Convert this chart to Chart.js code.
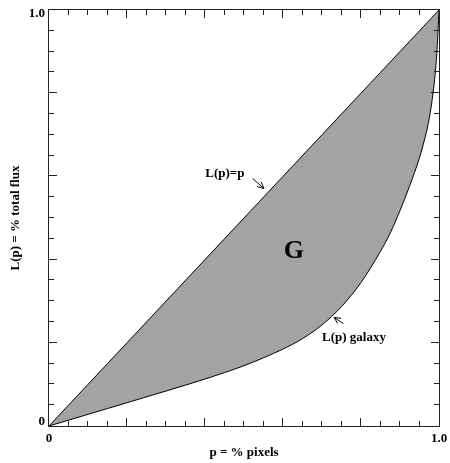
<!DOCTYPE html>
<html><head><meta charset="utf-8">
<script src="https://cdn.jsdelivr.net/npm/chart.js@4"></script>
<style>html,body{margin:0;padding:0;background:#fff}</style>
</head><body>
<canvas id="c" width="450" height="463"></canvas>
<script>
// fraction of pixels (sorted by flux) and cumulative fraction of total flux
const pixelFraction = [0, 0.05, 0.10, 0.15, 0.20, 0.30, 0.40, 0.50, 0.60, 0.65, 0.70, 0.75, 0.80, 0.85, 0.875, 0.90, 0.925, 0.95, 0.96, 0.97, 0.98, 0.99, 0.995, 1.0];
const fluxFraction  = [0, 0.014, 0.028, 0.042, 0.056, 0.084, 0.113, 0.145, 0.185, 0.210, 0.243, 0.287, 0.345, 0.420, 0.464, 0.518, 0.578, 0.645, 0.678, 0.716, 0.768, 0.845, 0.905, 1.0];
const xTickLabels = {0: '0', 1: '1.0'};
const yTickLabels = {0: '0', 1: '1.0'};
const xTitle = 'p = % pixels';
const yTitle = 'L(p) = % total flux';
const annotations = [
  {text: 'L(p)=p', x: 0.451, y: 0.606, arrowFrom: [0.522, 0.595], arrowTo: [0.551, 0.571]},
  {text: 'L(p) galaxy', x: 0.782, y: 0.212, arrowFrom: [0.755, 0.246], arrowTo: [0.731, 0.261]},
  {text: 'G', x: 0.628, y: 0.421, big: true}
];

const FONT = '"Liberation Serif", "Times New Roman", serif';

const decor = {
  id: 'decor',
  afterDraw(chart) {
    const {ctx, chartArea: a, scales: {x, y}} = chart;
    ctx.save();
    ctx.strokeStyle = '#222';
    ctx.lineWidth = 1;
    ctx.strokeRect(a.left - 0.5, a.top - 0.5, a.right - a.left + 1, a.bottom - a.top + 1);
    ctx.beginPath();
    x.ticks.forEach(t => {
      const v = t.value;
      if (v <= 0 || v >= 1) return;
      const px = Math.round(x.getPixelForValue(v)) - 0.5;
      const len = Math.round(v * 100) % 20 === 0 ? 8 : 5;
      ctx.moveTo(px, a.bottom); ctx.lineTo(px, a.bottom - len);
      ctx.moveTo(px, a.top); ctx.lineTo(px, a.top + len);
    });
    y.ticks.forEach(t => {
      const v = t.value;
      if (v <= 0 || v >= 1) return;
      const py = Math.round(y.getPixelForValue(v)) - 0.5;
      const len = Math.round(v * 100) % 20 === 0 ? 8 : 5;
      ctx.moveTo(a.left, py); ctx.lineTo(a.left + len, py);
      ctx.moveTo(a.right, py); ctx.lineTo(a.right - len, py);
    });
    ctx.stroke();

    ctx.fillStyle = '#000';
    ctx.font = 'bold 13px ' + FONT;
    ctx.textBaseline = 'middle';
    ctx.textAlign = 'center';
    Object.keys(xTickLabels).forEach(k => {
      ctx.fillText(xTickLabels[k], x.getPixelForValue(+k), a.bottom + 13);
    });
    ctx.textAlign = 'right';
    Object.keys(yTickLabels).forEach(k => {
      const v = +k;
      const py = y.getPixelForValue(v) + (v === 0 ? -4 : 4);
      ctx.fillText(yTickLabels[k], a.left - 4, py);
    });
    // axis titles
    ctx.textAlign = 'center';
    ctx.textBaseline = 'alphabetic';
    ctx.fillText(xTitle, (a.left + a.right) / 2, 456);
    ctx.save();
    ctx.translate(19, (a.top + a.bottom) / 2);
    ctx.rotate(-Math.PI / 2);
    ctx.fillText(yTitle, 0, 0);
    ctx.restore();

    // annotations
    annotations.forEach(an => {
      ctx.font = (an.big ? 'bold 26px ' : 'bold 13px ') + FONT;
      ctx.textAlign = 'center';
      ctx.textBaseline = 'middle';
      ctx.fillText(an.text, x.getPixelForValue(an.x), y.getPixelForValue(an.y));
      if (an.arrowFrom) {
        const x0 = x.getPixelForValue(an.arrowFrom[0]), y0 = y.getPixelForValue(an.arrowFrom[1]);
        const x1 = x.getPixelForValue(an.arrowTo[0]), y1 = y.getPixelForValue(an.arrowTo[1]);
        const ang = Math.atan2(y1 - y0, x1 - x0);
        const h = 7, s = 0.45;
        ctx.beginPath();
        ctx.strokeStyle = '#000';
        ctx.moveTo(x0, y0); ctx.lineTo(x1, y1);
        ctx.moveTo(x1, y1); ctx.lineTo(x1 - h * Math.cos(ang - s), y1 - h * Math.sin(ang - s));
        ctx.moveTo(x1, y1); ctx.lineTo(x1 - h * Math.cos(ang + s), y1 - h * Math.sin(ang + s));
        ctx.stroke();
      }
    });
    ctx.restore();
  }
};

new Chart(document.getElementById('c'), {
  type: 'line',
  data: {
    datasets: [
      {
        label: 'L(p)=p',
        data: pixelFraction.map(p => ({x: p, y: p})),
        borderColor: '#000', borderWidth: 1, pointRadius: 0, fill: false
      },
      {
        label: 'L(p) galaxy',
        data: pixelFraction.map((p, i) => ({x: p, y: fluxFraction[i]})),
        borderColor: '#000', borderWidth: 1, pointRadius: 0,
        cubicInterpolationMode: 'monotone',
        fill: {target: 0}, backgroundColor: '#a3a3a3'
      }
    ]
  },
  options: {
    responsive: false,
    animation: false,
    layout: {padding: {top: 10, right: 11, left: 0, bottom: 0}},
    plugins: {legend: {display: false}, tooltip: {enabled: false}},
    scales: {
      x: {
        type: 'linear', min: 0, max: 1,
        ticks: {stepSize: 0.05, display: false},
        grid: {display: false}, border: {display: false},
        afterFit(s) { s.height = 37; }
      },
      y: {
        type: 'linear', min: 0, max: 1,
        ticks: {stepSize: 0.05, display: false},
        grid: {display: false}, border: {display: false},
        afterFit(s) { s.width = 49; }
      }
    }
  },
  plugins: [decor]
});
</script>
</body></html>
